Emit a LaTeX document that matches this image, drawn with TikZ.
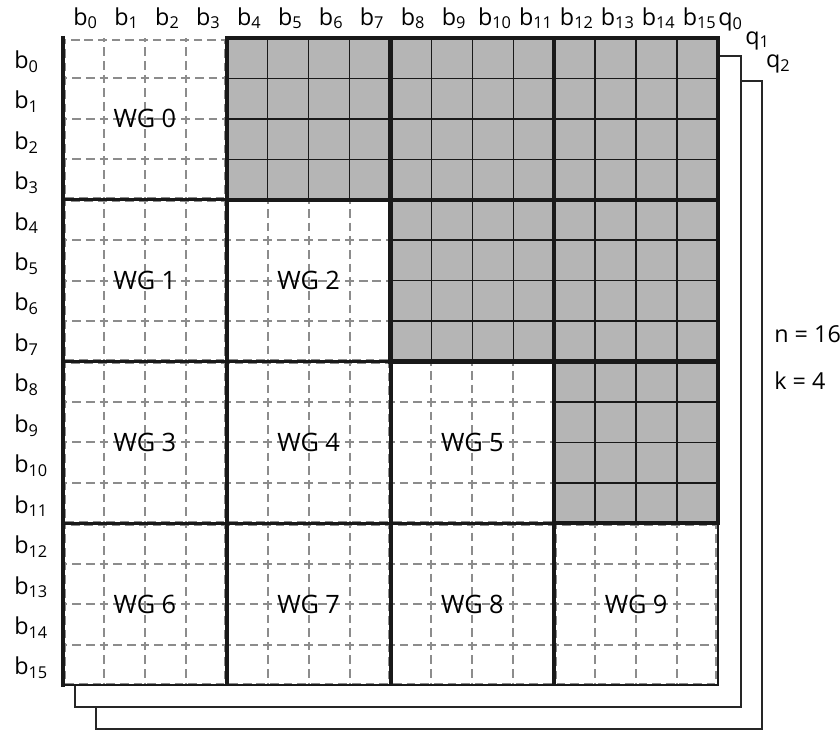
\documentclass[tikz,border=0pt]{standalone}
\usepackage{fontspec}
\setmainfont{Open Sans}
\usetikzlibrary{positioning}
\newcommand{\bsub}[1]{b\textsubscript{#1}}
\newcommand{\qsub}[1]{q\textsubscript{#1}}

\begin{document}
\begin{tikzpicture}[x=30.7pt, y=-30.33pt,
  lbl/.style={font=\fontsize{17.5}{20}\selectfont, inner sep=0pt},
  wglbl/.style={font=\fontsize{19}{22}\selectfont, inner sep=0pt},
  plane/.style={draw=black!85, fill=white, line width=1.2pt},
  dashgrid/.style={draw=black!45, line width=1.5pt, dash pattern=on 6.5pt off 3.73pt, dash phase=3.25pt},
  cellline/.style={draw=black!90, line width=1.2pt},
  blockline/.style={draw=black!90, line width=3.2pt}]
  \useasboundingbox (-1.539,-0.94) rectangle (18.98,17.14);
  % back planes
  \draw[plane] (0.806,1.063) rectangle (17.07,17.09);
  \draw[plane] (0.293,0.445) rectangle (16.56,16.54);
  \fill[white] (0,0) rectangle (16,16);
  % lower blocks (work groups)
  \foreach \r in {0,...,3}{
    \foreach \c in {0,...,\r}{
      \foreach \i in {1,2,3}{
        \draw[dashgrid] (4*\c+\i,4*\r) -- (4*\c+\i,4*\r+4);
        \draw[dashgrid] (4*\c,4*\r+\i) -- (4*\c+4,4*\r+\i);
      }
      \draw[dashgrid] (4*\c+0.04,4*\r+0.04) rectangle (4*\c+3.96,4*\r+3.96);
    }
  }
  % upper blocks
  \foreach \r in {0,1,2}{
    \pgfmathtruncatemacro{\cs}{\r+1}
    \foreach \c in {\cs,...,3}{
      \fill[black!29] (4*\c,4*\r) rectangle (4*\c+4,4*\r+4);
      \foreach \i in {1,2,3}{
        \draw[cellline] (4*\c+\i,4*\r) -- (4*\c+\i,4*\r+4);
        \draw[cellline] (4*\c,4*\r+\i) -- (4*\c+4,4*\r+\i);
      }
    }
  }
  % separators
  \foreach \j in {1,2,3}{
    \draw[black!90, line width=2.2pt] (0,4*\j) -- (4*\j,4*\j);
    \draw[black!90, line width=3pt] (4*\j,4*\j) -- (4*\j,16);
  }
  \draw[black!90, line width=3pt] (0,-0.05) -- (0,16.05);
  \draw[black!90, line width=1.4pt] (0,16) -- (16,16) -- (16,12);
  \foreach \r in {0,1,2}{
    \pgfmathtruncatemacro{\cs}{\r+1}
    \foreach \c in {\cs,...,3}
      \draw[blockline] (4*\c,4*\r) rectangle (4*\c+4,4*\r+4);
  }
  % work group labels
  \foreach \r in {0,...,3}{
    \foreach \c in {0,...,\r}{
      \pgfmathtruncatemacro{\k}{\r*(\r+1)/2+\c}
      \node[wglbl] (wg\k) at (4*\c+2,4*\r+2) {WG \k};
    }
  }
  % index labels
  \foreach \i in {0,...,15}{
    \node[lbl, anchor=base] (col\i) at (\i+0.55,-0.32) {\bsub{\i}};
    \node[lbl, anchor=base west] (row\i) at (-1.197,\i+0.747) {\bsub{\i}};
  }
  \node[lbl, anchor=base west] (q0) at (16.0,-0.30) {\qsub{0}};
  \node[lbl, anchor=base west] (q1) at (16.66,0.15) {\qsub{1}};
  \node[lbl, anchor=base west] (q2) at (17.17,0.74) {\qsub{2}};
  \node[lbl, anchor=base west] (nval) at (17.37,7.52) {n = 16};
  \node[lbl, anchor=base west] (kval) at (17.37,8.68) {k = 4};
\end{tikzpicture}
\end{document}
